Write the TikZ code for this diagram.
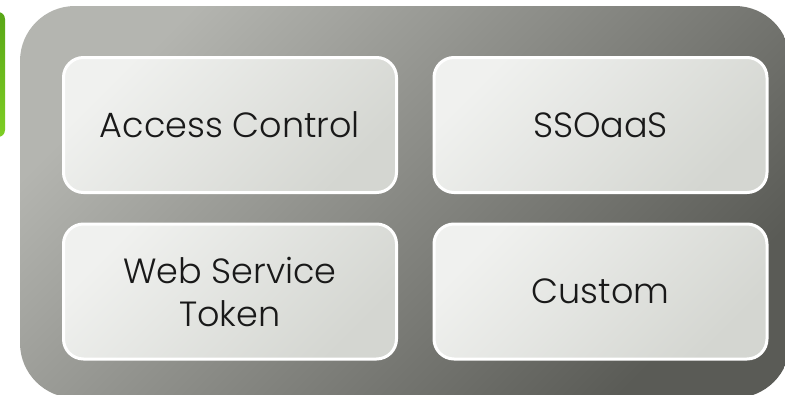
\documentclass[tikz,border=0pt]{standalone}
\usepackage{fontspec}
\setmainfont{Poppins}[UprightFont={* Light}]
\definecolor{outerlight}{RGB}{180,181,176}
\definecolor{outerdark}{RGB}{90,91,86}
\definecolor{cardlight}{RGB}{240,241,239}
\definecolor{carddark}{RGB}{212,214,209}
\definecolor{tablight}{RGB}{126,206,36}
\definecolor{tabdark}{RGB}{88,166,22}
\begin{document}
\begin{tikzpicture}[x=1pt,y=-1pt,
        card/.style={draw=white, line width=3pt, rounded corners=20pt,
            minimum width=333pt, minimum height=135pt,
            top color=cardlight, bottom color=carddark, shading angle=45,
            align=center, text=black!90, font=\fontsize{35}{43}\selectfont}]
            \useasboundingbox (0,0) rectangle (785,394);
            \clip (0,0) rectangle (785,394);
            \shade[rounded corners=7pt, top color=tabdark, bottom color=tablight]
                (-30,12) rectangle (5,137);
            \shade[rounded corners=55pt, top color=outerlight, bottom color=outerdark, shading angle=45]
                (20,6) rectangle (790,398);
            \node[card] (access) at (230,125) {Access Control};
            \node[card] (sso) at (600.5,125) {SSOaaS};
            \node[card] (wst) at (230,291.5) {Web Service\\Token};
            \node[card] (custom) at (600.5,291.5) {Custom};
        \end{tikzpicture}
\end{document}
